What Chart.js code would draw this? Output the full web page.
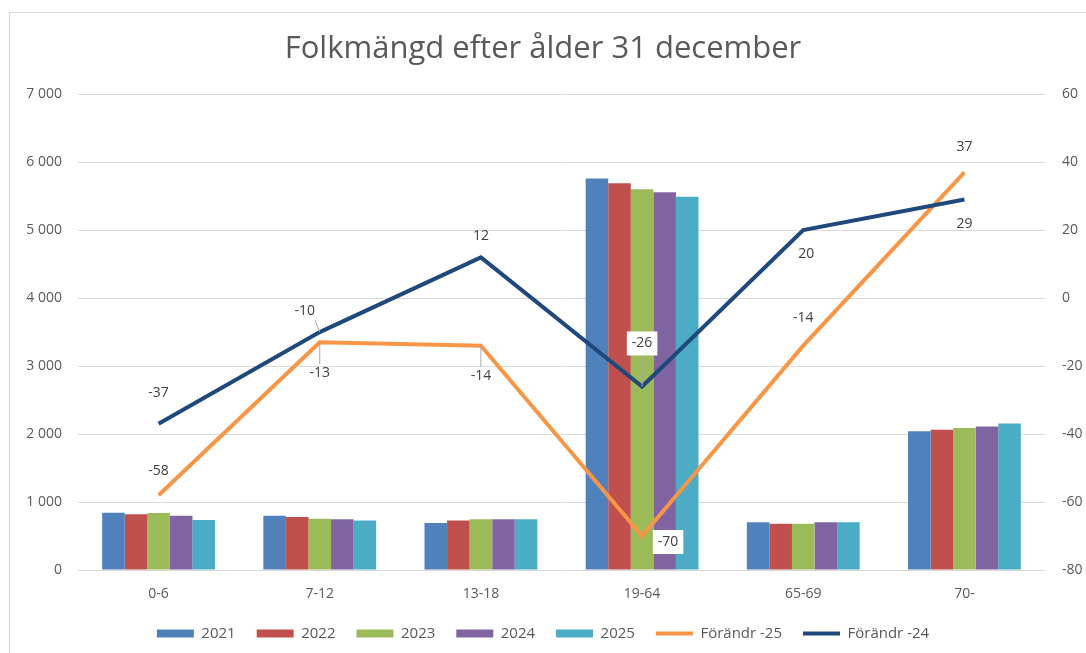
<!DOCTYPE html>
<html>
<head>
<meta charset="utf-8">
<script src="https://cdn.jsdelivr.net/npm/chart.js@4/dist/chart.umd.min.js"></script>
<style>
  html, body { margin: 0; padding: 0; background: #fff; }
  #wrap { position: relative; width: 1086px; height: 653px; }
  #frame { position: absolute; left: 9px; top: 12px; width: 1100px; height: 700px;
           border-left: 1px solid #d9d9d9; border-top: 1px solid #d9d9d9; pointer-events: none; }
</style>
</head>
<body>
<div id="wrap">
  <canvas id="c" width="1086" height="653"></canvas>
  <div id="frame"></div>
</div>
<script>
// categories and values
const ageGroups = ['0-6', '7-12', '13-18', '19-64', '65-69', '70-'];
const years = ['2021', '2022', '2023', '2024', '2025'];
const pop2021 = [842, 798, 690, 5758, 702, 2041];
const pop2022 = [822, 778, 728, 5690, 682, 2065];
const pop2023 = [837, 753, 748, 5601, 682, 2090];
const pop2024 = [798, 748, 748, 5557, 702, 2110];
const pop2025 = [734, 728, 748, 5492, 702, 2154];
const change25 = [-58, -13, -14, -70, -14, 37];
const change24 = [-37, -10, 12, -26, 20, 29];
const leftTicks = [0, 7000, 1000];   // min, max, step
const rightTicks = [-80, 60, 20];

const barColours = ['#4F81BD', '#C0504D', '#9BBB59', '#8064A2', '#4BACC6'];
const txt = '#595959';
const fam = '"Open Sans", "Noto Sans", sans-serif';
const fs = 14;

// where each data label goes relative to its point
const labelSpots = {
  'Förändr -25': [{dy:-24}, {dy:31, leader:true}, {dy:30, leader:true}, {dx:26, dy:6, box:true}, {dy:-28}, {dy:-25}],
  'Förändr -24': [{dy:-31}, {dx:-15, dy:-21, leader:true}, {dy:-21}, {dy:-43, box:true, leader:true}, {dx:3, dy:24}, {dy:24}]
};

const lineLabels = {
  id: 'lineLabels',
  afterDatasetsDraw(chart){
    const ctx = chart.ctx;
    ctx.save();
    ctx.font = fs + 'px ' + fam;
    ctx.textAlign = 'center';
    ctx.textBaseline = 'middle';
    chart.data.datasets.forEach(function(ds, di){
      const spots = labelSpots[ds.label];
      if(!spots) return;
      const meta = chart.getDatasetMeta(di);
      meta.data.forEach(function(pt, i){
        const s = spots[i] || {};
        const lx = pt.x + (s.dx||0), ly = pt.y + (s.dy||0);
        const t = String(ds.data[i]);
        const w = ctx.measureText(t).width;
        if(s.leader){
          ctx.strokeStyle = '#a6a6a6';
          ctx.lineWidth = 1;
          ctx.beginPath();
          // start from the label edge nearest the point
          let sx = lx, sy = ly + (pt.y > ly ? 9 : -9);
          if(s.dx) sx = lx + (s.dx < 0 ? w/2 : -w/2);
          if(s.box) sy = ly + 13;
          ctx.moveTo(sx, sy);
          ctx.lineTo(pt.x, pt.y);
          ctx.stroke();
        }
        if(s.box){
          ctx.fillStyle = '#ffffff';
          ctx.fillRect(lx - w/2 - 5, ly - 12, w + 10, 24);
        }
        ctx.fillStyle = '#404040';
        ctx.fillText(t, lx, ly);
      });
    });
    ctx.restore();
  }
};

const popSeries = [pop2021, pop2022, pop2023, pop2024, pop2025];
const datasets = years.map(function(y, i){
  return {
    type: 'bar', label: y, data: popSeries[i], yAxisID: 'y',
    backgroundColor: barColours[i], borderWidth: 0,
    categoryPercentage: 0.70, barPercentage: 1.0,
    pointStyle: 'rect', order: 0
  };
});
datasets.push({
  type: 'line', label: 'Förändr -25', data: change25, yAxisID: 'y1',
  borderColor: '#F79646', backgroundColor: '#F79646', borderWidth: 4,
  pointRadius: 0, pointStyle: 'line', tension: 0, order: -1
});
datasets.push({
  type: 'line', label: 'Förändr -24', data: change24, yAxisID: 'y1',
  borderColor: '#1F497D', backgroundColor: '#1F497D', borderWidth: 4,
  pointRadius: 0, pointStyle: 'line', tension: 0, order: -2
});

function spaced(v){ return String(v).replace(/\B(?=(\d{3})+(?!\d))/g, '\u00a0'); }

new Chart(document.getElementById('c'), {
  type: 'bar',
  data: { labels: ageGroups, datasets: datasets },
  plugins: [lineLabels],
  options: {
    responsive: false,
    animation: false,
    layout: { padding: { left: 0, right: 0, top: 0, bottom: 2 } },
    plugins: {
      title: {
        display: true, text: 'Folkmängd efter ålder 31 december',
        color: txt, font: { family: fam, size: 31, weight: 'normal' },
        padding: { top: 31, bottom: 26 }
      },
      legend: {
        position: 'bottom',
        labels: {
          color: txt, font: { family: fam, size: 15 },
          usePointStyle: true, pointStyleWidth: 37, boxHeight: 8, padding: 21,
          sort: function(a, b){ return a.datasetIndex - b.datasetIndex; }
        }
      },
      tooltip: { enabled: false }
    },
    scales: {
      x: {
        grid: { display: false, drawTicks: false },
        border: { display: false },
        ticks: { color: txt, font: { family: fam, size: fs }, padding: 16 },
        afterFit: function(s){ s.height = 35; }
      },
      y: {
        position: 'left', min: leftTicks[0], max: leftTicks[1],
        ticks: { stepSize: leftTicks[2], color: txt, font: { family: fam, size: fs }, padding: 16,
                 callback: function(v){ return spaced(v); } },
        grid: { color: '#d9d9d9', drawTicks: false },
        border: { display: false },
        afterFit: function(s){ s.width = 78; }
      },
      y1: {
        position: 'right', min: rightTicks[0], max: rightTicks[1],
        ticks: { stepSize: rightTicks[2], color: txt, font: { family: fam, size: fs }, padding: 17 },
        grid: { display: false, drawTicks: false },
        border: { display: false },
        afterFit: function(s){ s.width = 41; }
      }
    }
  }
});
</script>
</body>
</html>
